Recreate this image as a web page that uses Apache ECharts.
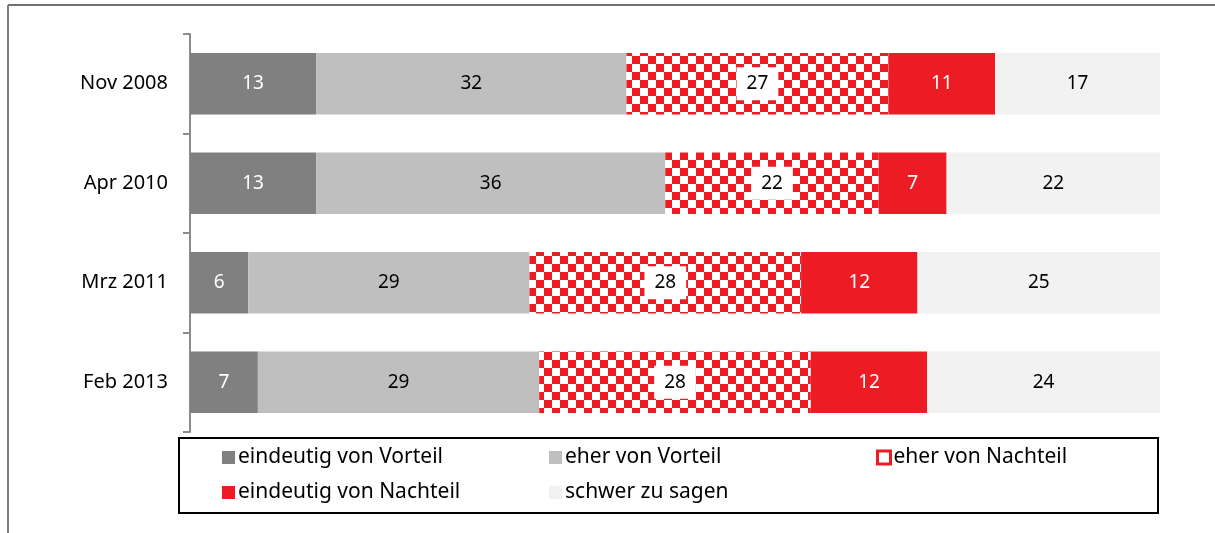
<!DOCTYPE html>
<html>
<head>
<meta charset="utf-8">
<script src="https://cdn.jsdelivr.net/npm/echarts@6/dist/echarts.min.js"></script>
<style>
  html, body {margin: 0; padding: 0; background: #fff;}
  #chart {width: 1215px; height: 533px;}
</style>
</head>
<body>
<div id="chart"></div>
<script>
    const categories = ['Nov 2008', 'Apr 2010', 'Mrz 2011', 'Feb 2013'];
    const seriesNames = ['eindeutig von Vorteil', 'eher von Vorteil', 'eher von Nachteil', 'eindeutig von Nachteil', 'schwer zu sagen'];
    const eindeutigVorteil = [13, 13, 6, 7];
    const eherVorteil = [32, 36, 29, 29];
    const eherNachteil = [27, 22, 28, 28];
    const eindeutigNachteil = [11, 7, 12, 12];
    const schwerZuSagen = [17, 22, 25, 24];

    const RED = '#ed1c24';
    const FONT = 'Noto Sans';

    // checker pattern for "eher von Nachteil"
    const tile = document.createElement('canvas');
    tile.width = 16;
    tile.height = 16;
    const ctx = tile.getContext('2d');
    ctx.fillStyle = '#fff';
    ctx.fillRect(0, 0, 16, 16);
    ctx.fillStyle = RED;
    ctx.fillRect(0, 0, 8, 8);
    ctx.fillRect(8, 8, 8, 8);
    const checker = {image: tile, repeat: 'repeat'};

    const chart = echarts.init(document.getElementById('chart'));

    function makeSeries(name, data, color, labelColor, extraLabel) {
        return {
            name: name,
            type: 'bar',
            stack: 'total',
            data: data,
            barWidth: '62%',
            itemStyle: {color: color},
            label: Object.assign({
                show: true,
                position: 'inside',
                color: labelColor,
                fontFamily: FONT,
                fontSize: 19
            }, extraLabel || {}),
            emphasis: {disabled: true}
        };
    }

    const seriesList = [
        makeSeries(seriesNames[0], eindeutigVorteil, '#808080', '#fff'),
        makeSeries(seriesNames[1], eherVorteil, '#bfbfbf', '#000'),
        makeSeries(seriesNames[2], eherNachteil, checker, '#000', {backgroundColor: '#fff', padding: [8, 10, 6, 10]}),
        makeSeries(seriesNames[3], eindeutigNachteil, RED, '#fff'),
        makeSeries(seriesNames[4], schwerZuSagen, '#f2f2f2', '#000')
    ];

    const option = {
        animation: false,
        grid: {left: 190, right: 55, top: 34, bottom: 101},
        xAxis: {
            type: 'value',
            min: 0,
            max: 100,
            show: false
        },
        yAxis: {
            type: 'category',
            data: categories,
            inverse: true,
            axisLine: {show: true, lineStyle: {color: '#8c8c8c', width: 2}},
            axisTick: {show: true, length: 7, lineStyle: {color: '#8c8c8c', width: 2}},
            axisLabel: {color: '#000', fontFamily: FONT, fontSize: 20, margin: 22}
        },
        legend: {
            left: 178,
            top: 440,
            width: 1040,
            padding: [0, 0, 0, 44],
            itemGap: 0,
            itemWidth: 13,
            itemHeight: 13,
            icon: 'rect',
            selectedMode: false,
            textStyle: {color: '#000', fontFamily: FONT, fontSize: 21, width: 311, lineHeight: 35, padding: [0, 0, 0, -2]},
            data: [
                seriesNames[0],
                seriesNames[1],
                {name: seriesNames[2], itemStyle: {color: '#fff', borderColor: RED, borderWidth: 3}},
                seriesNames[3],
                seriesNames[4]
            ]
        },
        graphic: [
            {type: 'line', shape: {x1: 8, y1: 5, x2: 1215, y2: 5}, style: {stroke: '#6f6f6f', lineWidth: 2}},
            {type: 'line', shape: {x1: 8, y1: 5, x2: 8, y2: 533}, style: {stroke: '#7f7f7f', lineWidth: 2}},
            {type: 'rect', shape: {x: 179, y: 438, width: 979, height: 75}, style: {fill: null, stroke: '#000', lineWidth: 2}}
        ],
        series: seriesList
    };

    chart.setOption(option);
</script>
</body>
</html>
